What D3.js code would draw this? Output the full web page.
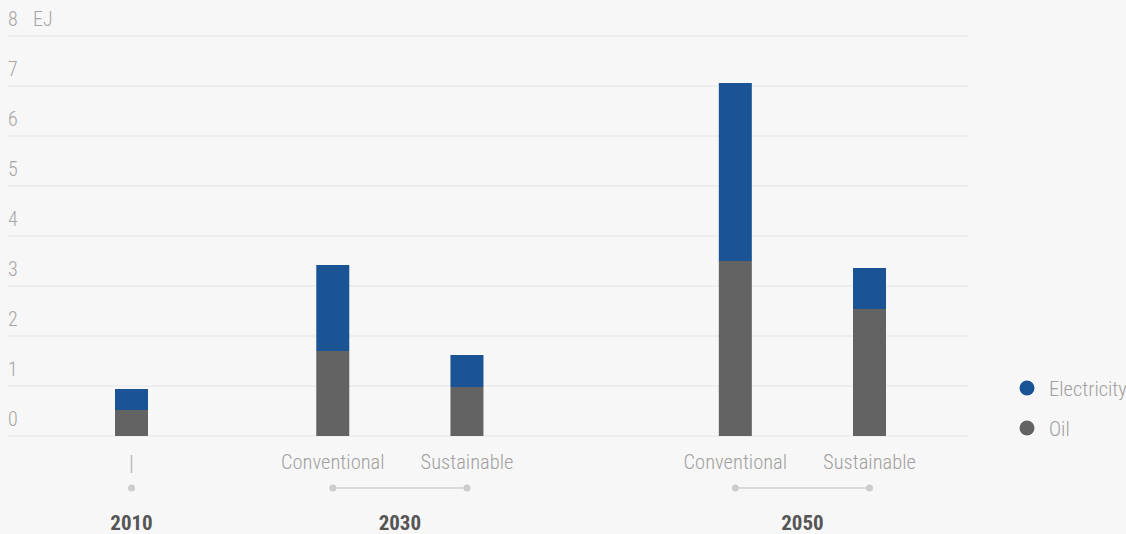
<!DOCTYPE html>
<html>
<head>
<meta charset="utf-8">
<script src="https://cdn.jsdelivr.net/npm/d3@7/dist/d3.min.js"></script>
<style>
  html, body { margin: 0; padding: 0; background: #f7f7f7; }
  svg { display: block; }
  text { font-family: "Roboto Condensed", "Liberation Sans Narrow", "DejaVu Sans Condensed", sans-serif; }
</style>
</head>
<body>
<svg id="chart" width="1126" height="534"></svg>
<script>
// ---- data ----
const years = ["2010", "2030", "2030", "2050", "2050"];
const scenarios = ["|", "Conventional", "Sustainable", "Conventional", "Sustainable"];
const oil = [0.52, 1.70, 0.98, 3.50, 2.54];
const electricity = [0.42, 1.72, 0.64, 3.56, 0.82];
const seriesNames = ["Electricity", "Oil"];
const yTicks = [0, 1, 2, 3, 4, 5, 6, 7, 8];
const unitLabel = "EJ";

// ---- layout ----
const W = 1126, H = 534;
const colors = { Electricity: "#1a5494", Oil: "#636363" };
const slots = [0, 3, 5, 9, 11]; // horizontal slot of each bar
const svg = d3.select("#chart");
svg.append("rect").attr("width", W).attr("height", H).attr("fill", "#f7f7f7");

const y = d3.scaleLinear().domain([0, 8]).range([436, 36]);
const x = d3.scaleLinear().domain([0, 11]).range([131.5, 869.5]);
const barW = 33;

// gridlines + y labels
const yAxis = svg.append("g");
yTicks.forEach(t => {
  yAxis.append("line")
    .attr("x1", 8).attr("x2", 968)
    .attr("y1", y(t)).attr("y2", y(t))
    .attr("stroke", "#ebebeb").attr("stroke-width", 1.5);
  yAxis.append("text")
    .attr("x", 8).attr("y", y(t) - 10)
    .attr("font-size", 20).attr("font-weight", 300)
    .attr("fill", "#a6a6a6")
    .text(t);
});
yAxis.append("text")
  .attr("x", 33).attr("y", y(8) - 10)
  .attr("font-size", 20).attr("font-weight", 300)
  .attr("fill", "#a6a6a6")
  .text(unitLabel);

// stacked bars
const rows = years.map((yr, i) => ({ i, Oil: oil[i], Electricity: electricity[i] }));
const stack = d3.stack().keys(["Oil", "Electricity"])(rows);
const bars = svg.append("g");
stack.forEach(layer => {
  bars.selectAll(null).data(layer).enter().append("rect")
    .attr("x", d => x(slots[d.data.i]) - barW / 2)
    .attr("width", barW)
    .attr("y", d => y(d[1]))
    .attr("height", d => y(d[0]) - y(d[1]))
    .attr("fill", colors[layer.key]);
});

// scenario labels
const xAxis = svg.append("g");
scenarios.forEach((s, i) => {
  if (s === "|") {
    xAxis.append("line")
      .attr("x1", x(slots[i])).attr("x2", x(slots[i]))
      .attr("y1", 455).attr("y2", 473)
      .attr("stroke", "#bbbbbb").attr("stroke-width", 1.5);
  } else {
    xAxis.append("text")
      .attr("x", x(slots[i])).attr("y", 469)
      .attr("text-anchor", "middle")
      .attr("font-size", 20.5).attr("font-weight", 300)
      .attr("fill", "#a0a0a0")
      .text(s);
  }
});

// year groups with connector dots
const yearGroups = Array.from(d3.group(years.map((yr, i) => ({ yr, i })), d => d.yr),
  ([yr, items]) => ({ yr, xs: items.map(d => x(slots[d.i])) }));
yearGroups.forEach(g => {
  const x0 = d3.min(g.xs), x1 = d3.max(g.xs);
  if (x1 > x0) {
    xAxis.append("line")
      .attr("x1", x0).attr("x2", x1).attr("y1", 488).attr("y2", 488)
      .attr("stroke", "#dadada").attr("stroke-width", 2);
  }
  g.xs.forEach(cx => {
    xAxis.append("circle").attr("cx", cx).attr("cy", 488).attr("r", 3.5).attr("fill", "#cccccc");
  });
  xAxis.append("text")
    .attr("x", (x0 + x1) / 2).attr("y", 530)
    .attr("text-anchor", "middle")
    .attr("font-size", 21).attr("font-weight", 700)
    .attr("fill", "#555555")
    .text(g.yr);
});

// legend
const legend = svg.append("g");
seriesNames.forEach((n, i) => {
  const cy = 388 + i * 40;
  legend.append("circle").attr("cx", 1027).attr("cy", cy).attr("r", 7.5).attr("fill", colors[n]);
  legend.append("text")
    .attr("x", 1049).attr("y", cy + 8)
    .attr("font-size", 20.5).attr("font-weight", 300)
    .attr("fill", "#a0a0a0")
    .text(n);
});
</script>
</body>
</html>
